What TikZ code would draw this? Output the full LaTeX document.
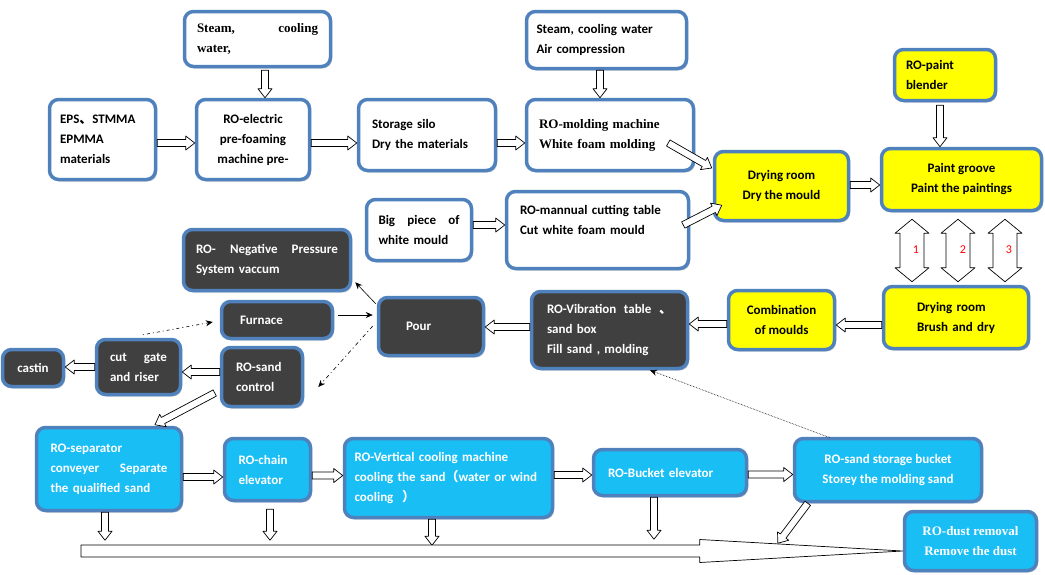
\documentclass[tikz,border=0pt]{standalone}
\usepackage{fontspec}
\setmainfont{Carlito}
\newfontfamily\serifbf{Liberation Serif}
\newfontfamily\cjk{Noto Sans CJK SC}
\usetikzlibrary{calc,shadows,arrows.meta}
\definecolor{boxblue}{RGB}{79,129,189}
\definecolor{darkbox}{RGB}{64,64,64}
\definecolor{skybox}{RGB}{25,190,245}
\definecolor{paintyel}{RGB}{255,255,0}

\begin{document}
\begin{tikzpicture}[x=1pt,y=-1pt,font=\fontsize{13}{20}\selectfont\bfseries, line join=round, >={Stealth[length=7pt,width=6pt]},
	box/.style={draw=boxblue, line width=3.5pt, rounded corners=9pt, inner sep=0pt, align=left,
		drop shadow={shadow xshift=1.5pt, shadow yshift=-2pt, fill=gray!70, opacity=.5}},
	wbox/.style={box, fill=white},
	ybox/.style={box, fill=paintyel},
	dbox/.style={box, fill=darkbox, text=white},
	cbox/.style={box, fill=skybox, text=white},
	serif/.style={font=\fontsize{13}{20}\selectfont\serifbf\bfseries},
	fat/.style n args={3}{to path={
		($(\tikztostart)!#1!90:(\tikztotarget)$)
		-- ($(\tikztotarget)!#3!(\tikztostart)!#1!-90:(\tikztostart)$)
		-- ($(\tikztotarget)!#3!(\tikztostart)!#2!-90:(\tikztostart)$)
		-- (\tikztotarget)
		-- ($(\tikztotarget)!#3!(\tikztostart)!#2!90:(\tikztostart)$)
		-- ($(\tikztotarget)!#3!(\tikztostart)!#1!90:(\tikztostart)$)
		-- ($(\tikztostart)!#1!-90:(\tikztotarget)$) -- cycle}},
	dfat/.style n args={3}{to path={
		-- ($(\tikztostart)!#3!(\tikztotarget)!#2!90:(\tikztotarget)$)
		-- ($(\tikztostart)!#3!(\tikztotarget)!#1!90:(\tikztotarget)$)
		-- ($(\tikztotarget)!#3!(\tikztostart)!#1!-90:(\tikztostart)$)
		-- ($(\tikztotarget)!#3!(\tikztostart)!#2!-90:(\tikztostart)$)
		-- (\tikztotarget)
		-- ($(\tikztotarget)!#3!(\tikztostart)!#2!90:(\tikztostart)$)
		-- ($(\tikztotarget)!#3!(\tikztostart)!#1!90:(\tikztostart)$)
		-- ($(\tikztostart)!#3!(\tikztotarget)!#1!-90:(\tikztotarget)$)
		-- ($(\tikztostart)!#3!(\tikztotarget)!#2!-90:(\tikztotarget)$)
		-- cycle}},
	barrow/.style={draw=black, fill=white, line width=.7pt, fat={3.5pt}{7pt}{9pt}},
	belt/.style={draw=black, fill=white, line width=.7pt, fat={6pt}{11.5pt}{203pt}},
	twoway/.style={draw=black, fill=white, line width=.7pt, dfat={12pt}{17pt}{14pt}},
	thinarr/.style={->, line width=.6pt}]
	\useasboundingbox (0,0) rectangle (1045,574);
	% top row
	\node[wbox, serif, minimum width=146, minimum height=55, text width=121] (steamA) at (257.5,39) {Steam,\hfill cooling\\water,};
	\node[wbox, minimum width=106, minimum height=80, text width=85] (eps) at (102.5,139.5) {EPS{\cjk 、}STMMA\\EPMMA\\materials};
	\node[wbox, minimum width=113, minimum height=80, align=center] (elec) at (253,139.5) {RO-electric\\pre-foaming\\machine pre-};
	\node[wbox, minimum width=137, minimum height=71, text width=110] (silo) at (427,135) {Storage silo\\Dry the materials};
	\node[wbox, minimum width=160, minimum height=57, text width=140] (steamB) at (606.5,40) {Steam, cooling water\\Air compression};
	\node[wbox, serif, minimum width=167, minimum height=71, text width=142] (molding) at (610,135) {RO-molding machine\\White foam molding};
	\node[ybox, minimum width=134, minimum height=69, align=center] (dryA) at (781.5,186) {Drying room\\Dry the mould};
	\node[ybox, minimum width=101, minimum height=51, text width=78] (blender) at (945,75) {RO-paint\\blender};
	\node[ybox, minimum width=160, minimum height=62, align=center] (groove) at (961.5,179.5) {Paint groove\\Paint the paintings};
	% middle rows
	\node[wbox, minimum width=105, minimum height=61, text width=81] (bigpiece) at (419,230) {Big\hfill piece\hfill of\\white mould};
	\node[wbox, minimum width=182, minimum height=77, text width=155] (cutting) at (597.5,230) {RO-mannual cutting table\\Cut white foam mould\\\mbox{}};
	\node[dbox, minimum width=167, minimum height=61, text width=142] (negpress) at (267,260) {RO-\hfill Negative\hfill Pressure\\System vaccum};
	\node[dbox, minimum width=111, minimum height=37, text width=74] (furnace) at (277,320) {Furnace};
	\node[dbox, minimum width=105, minimum height=58, text width=50] (pour) at (431,326.5) {Pour};
	\node[dbox, minimum width=156, minimum height=77, text width=125] (vibration) at (609.5,330) {RO-Vibration\hfill table\hfill{\cjk 、}\\sand box\\Fill sand , molding};
	\node[ybox, minimum width=106, minimum height=59, align=center] (combination) at (781.5,320) {Combination\\of moulds};
	\node[ybox, minimum width=145, minimum height=62, text width=78] (dryB) at (956,317.5) {Drying room\\Brush and dry};
	\node[dbox, minimum width=61, minimum height=37, align=center] (castin) at (33,368) {castin};
	\node[dbox, minimum width=84, minimum height=55, text width=57] (cutgate) at (138.5,367) {cut\hfill gate\\and riser};
	\node[dbox, minimum width=81, minimum height=59, text width=52] (sandctl) at (262,377) {RO-sand\\control};
	% sand line
	\node[cbox, minimum width=145, minimum height=83, text width=117] (separator) at (109,469) {RO-separator\\conveyer\hfill Separate\\the qualified sand};
	\node[cbox, minimum width=86, minimum height=62, text width=58] (chain) at (267.5,469.5) {RO-chain\\elevator};
	\node[cbox, minimum width=208, minimum height=79, text width=188] (vertical) at (448.5,478) {RO-Vertical cooling machine\\cooling the sand{\cjk （}water or wind\\cooling\ \ {\cjk ）}};
	\node[cbox, minimum width=153, minimum height=46, text width=124] (bucket) at (670,472.5) {RO-Bucket elevator};
	\node[cbox, minimum width=187, minimum height=63, align=center] (storage) at (888,470) {RO-sand storage bucket\\Storey the molding sand};
	\node[cbox, serif, minimum width=132, minimum height=59, align=center] (dust) at (970.5,541) {RO-dust removal\\Remove the dust};
	\coordinate (beltL) at (81,551);
	% block arrows
	\draw[barrow] ($(steamA.south)+(7.5,2)$) to ($(elec.north)+(12,0)$);
	\draw[barrow] ($(eps.east)+(0,3.5)$) to ($(elec.west)+(0,3.5)$);
	\draw[barrow] ($(elec.east)+(0,3.5)$) to ($(silo.west)+(0,8)$);
	\draw[barrow] ($(silo.east)+(0,8)$) to ($(molding.west)+(0,8)$);
	\draw[barrow] ($(steamB.south)+(-6.5,0)$) to ($(molding.north)+(-10,0)$);
	\draw[barrow] ($(molding.east)+(-27,8)$) to ($(dryA.west)+(-1,-18)$);
	\draw[barrow] ($(cutting.east)+(-7,-5)$) to ($(dryA.south west)+(9,-17)$);
	\draw[barrow] ($(dryA.east)+(0,-1)$) to ($(groove.west)+(0,5.5)$);
	\draw[barrow] ($(blender.south)+(-5,3)$) to ($(groove.north)+(-21.5,0)$);
	\draw[barrow] ($(bigpiece.east)+(0,-5)$) to ($(cutting.west)+(0,-5)$);
	\draw[twoway] ($(groove.south)+(-49.5,7)$) to ($(dryB.north)+(-44,-3)$);
	\draw[twoway] ($(groove.south)+(-3.5,7)$) to ($(dryB.north)+(2,-3)$);
	\draw[twoway] ($(groove.south)+(43.5,7)$) to ($(dryB.north)+(49,-3)$);
	\draw[barrow] ($(dryB.west)+(0,7.5)$) to ($(combination.east)+(0,5)$);
	\draw[barrow] ($(combination.west)+(0,4)$) to ($(vibration.east)+(0,-6)$);
	\draw[barrow] ($(vibration.west)+(0,-3)$) to ($(pour.east)+(0,0.5)$);
	\draw[barrow] ($(sandctl.west)+(0,-5)$) to ($(cutgate.east)+(0,5)$);
	\draw[barrow] (cutgate.west) to ($(castin.east)+(0,-1)$);
	\draw[barrow] ($(sandctl.west)+(-5,16)$) to ($(separator.north)+(46,-1)$);
	\draw[barrow] ($(separator.east)+(0,8)$) to ($(chain.west)+(0,7.5)$);
	\draw[barrow] ($(chain.east)+(0,6)$) to ($(vertical.west)+(0,-2.5)$);
	\draw[barrow] ($(vertical.east)+(0,-3)$) to ($(bucket.west)+(0,2.5)$);
	\draw[barrow] ($(bucket.east)+(0,2)$) to ($(storage.west)+(0,4.5)$);
	\draw[barrow] ($(separator.south)+(-4,0)$) to ($(separator.south)+(-4,28)$);
	\draw[barrow] ($(chain.south)+(2.5,7)$) to ($(chain.south)+(2.5,38)$);
	\draw[barrow] ($(vertical.south)+(-16.5,0)$) to ($(vertical.south)+(-16.5,26)$);
	\draw[barrow] ($(bucket.south)+(-16,0)$) to ($(bucket.south)+(-16,42)$);
	\draw[barrow] ($(storage.south west)+(15,0)$) to ($(storage.south west)+(-15,40)$);
	\draw[belt] (beltL) to ($(dust.west)+(0,10)$);
	% thin arrows
	\draw[thinarr] ($(pour.north west)+(-1,8)$) -- ($(negpress.south east)+(3,-10)$);
	\draw[thinarr] ($(furnace.east)+(4,-5)$) -- ($(pour.west)+(-4,-11.5)$);
	\draw[thinarr, dash pattern=on 4pt off 3pt on 1pt off 3pt] ($(pour.west)+(-4,-0.5)$) -- ($(sandctl.east)+(14,10)$);
	\draw[thinarr, dash pattern=on 1pt off 3pt on 3pt off 3pt] ($(cutgate.north)+(4.5,-3)$) -- ($(furnace.west)+(-7,2)$);
	\draw[thinarr, densely dotted] ($(storage.north)+(-58,1)$) -- ($(vibration.south)+(40.5,0)$);
	% numbers
	\foreach \n/\x in {1/916,2/963,3/1009}{
		\node[text=red, font=\fontsize{12}{14}\selectfont] (num\n) at (\x,250) {\n};
	}
\end{tikzpicture}
\end{document}
